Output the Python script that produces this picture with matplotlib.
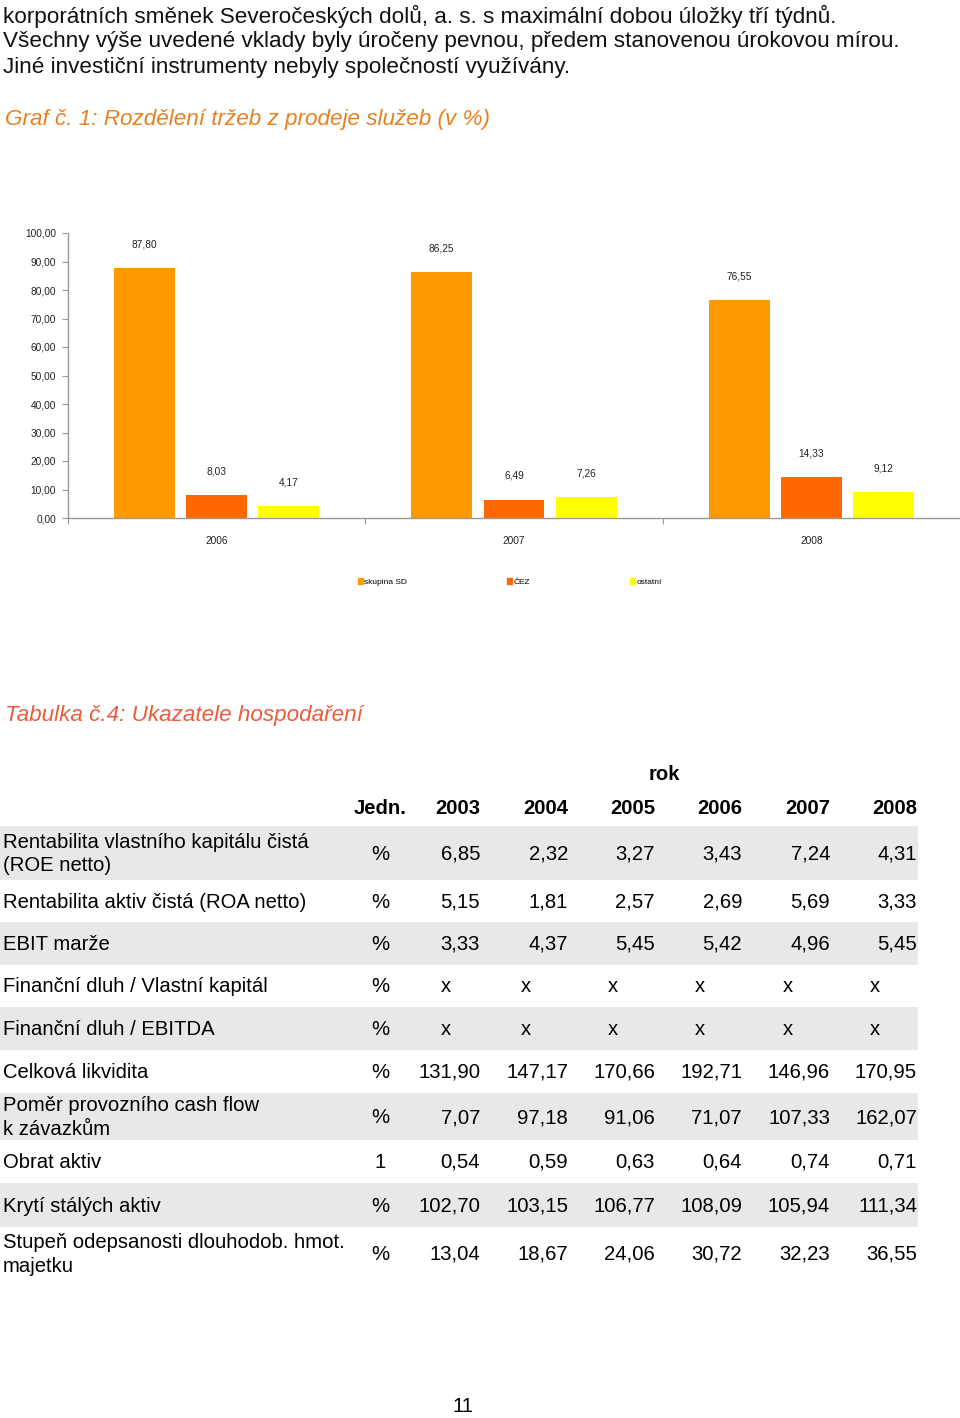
import matplotlib.pyplot as plt
import matplotlib.patches as mpatches
import numpy as np

plt.rcParams['font.family'] = ['Liberation Sans', 'DejaVu Sans']

# chart data
years = ['2006', '2007', '2008']
series = ['skupina SD', 'ČEZ', 'ostatní']
skupina_sd = [87.80, 86.25, 76.55]
cez = [8.03, 6.49, 14.33]
ostatni = [4.17, 7.26, 9.12]
colors = ['#FF9900', '#FF6600', '#FFFF00']

# table data
tab_years = ['2003', '2004', '2005', '2006', '2007', '2008']
row_labels = [
    'Rentabilita vlastního kapitálu čistá\n(ROE netto)',
    'Rentabilita aktiv čistá (ROA netto)',
    'EBIT marže',
    'Finanční dluh / Vlastní kapitál',
    'Finanční dluh / EBITDA',
    'Celková likvidita',
    'Poměr provozního cash flow\nk závazkům',
    'Obrat aktiv',
    'Krytí stálých aktiv',
    'Stupeň odepsanosti dlouhodob. hmot.\nmajetku',
]
units = ['%', '%', '%', '%', '%', '%', '%', '1', '%', '%']
values = [
    ['6,85', '2,32', '3,27', '3,43', '7,24', '4,31'],
    ['5,15', '1,81', '2,57', '2,69', '5,69', '3,33'],
    ['3,33', '4,37', '5,45', '5,42', '4,96', '5,45'],
    ['x', 'x', 'x', 'x', 'x', 'x'],
    ['x', 'x', 'x', 'x', 'x', 'x'],
    ['131,90', '147,17', '170,66', '192,71', '146,96', '170,95'],
    ['7,07', '97,18', '91,06', '71,07', '107,33', '162,07'],
    ['0,54', '0,59', '0,63', '0,64', '0,74', '0,71'],
    ['102,70', '103,15', '106,77', '108,09', '105,94', '111,34'],
    ['13,04', '18,67', '24,06', '30,72', '32,23', '36,55'],
]

W, H = 960, 1418
fig = plt.figure(figsize=(W / 100, H / 100), dpi=100)
fig.patch.set_facecolor('white')

# page layer in pixel coordinates
page = fig.add_axes([0, 0, 1, 1])
page.set_xlim(0, W)
page.set_ylim(H, 0)
page.axis('off')

text_fs = 16.2   # running text and captions
tab_fs = 14.6    # table
intro = [
    'korporátních směnek Severočeských dolů, a. s. s maximální dobou úložky tří týdnů.',
    'Všechny výše uvedené vklady byly úročeny pevnou, předem stanovenou úrokovou mírou.',
    'Jiné investiční instrumenty nebyly společností využívány.',
]
for i, line in enumerate(intro):
    page.text(3, 16 + 26 * i, line, fontsize=text_fs, va='center', ha='left', color='#111111')

page.text(5, 119, 'Graf č. 1: Rozdělení tržeb z prodeje služeb (v %)', fontsize=text_fs,
          style='italic', color='#E8801E', va='center')
page.text(5, 716, 'Tabulka č.4: Ukazatele hospodaření', fontsize=text_fs,
          style='italic', color='#EA5C3C', va='center')

# --- bar chart ---
ax = fig.add_axes([68 / W, 1 - 518 / H, 892 / W, 285 / H])
ax.patch.set_alpha(0)
x = np.arange(len(years))
bw = 0.205
off = 0.243
for k, (vals, c) in enumerate(zip([skupina_sd, cez, ostatni], colors)):
    bars = ax.bar(x + (k - 1) * off, vals, width=bw, color=c, label=series[k], zorder=2)
    for b, v in zip(bars, vals):
        ax.annotate(f'{v:.2f}'.replace('.', ','), (b.get_x() + b.get_width() / 2, v),
                    xytext=(0, 17), textcoords='offset points', ha='center', va='center',
                    fontsize=7.3, color='#222222')

ax.set_xlim(-0.5, 2.5)
ax.set_ylim(0, 100)
ax.set_yticks(np.arange(0, 101, 10))
ax.set_yticklabels([f'{t:.2f}'.replace('.', ',') for t in np.arange(0, 101, 10)])
ax.set_xticks([-0.5, 0.5, 1.5, 2.5])
ax.set_xticklabels([])
ax.set_xticks(x, minor=True)
ax.set_xticklabels(years, minor=True)
ax.tick_params(axis='x', which='minor', length=0, pad=12.7, labelsize=7.3, labelcolor='#222222')
ax.tick_params(axis='x', which='major', length=4, color='#999999', direction='out')
ax.tick_params(axis='y', length=4, color='#999999', pad=4.6, labelsize=7.3, labelcolor='#222222')
for s in ['top', 'right']:
    ax.spines[s].set_visible(False)
for s in ['left', 'bottom']:
    ax.spines[s].set_color('#999999')
    ax.spines[s].set_linewidth(1)

handles = [mpatches.Patch(color=c, label=s) for c, s in zip(colors, series)]
fig.legend(handles=handles, loc='center', bbox_to_anchor=(510 / W, 1 - 582 / H), ncol=3,
           frameon=False, fontsize=6, handlelength=0.6, handleheight=0.6, handletextpad=0.2,
           columnspacing=12)

# --- table ---
row_top = [826, 880, 922, 965, 1007, 1050, 1093, 1140, 1183, 1227]
row_bot = [880, 922, 965, 1007, 1050, 1093, 1140, 1183, 1227, 1280]
col_right = [480, 568, 655, 742, 830, 917]
x_mark = [446, 526, 613, 700, 788, 875]
unit_x = 380

page.text(664, 775, 'rok', fontsize=tab_fs, fontweight='bold', ha='center', va='center')
page.text(407, 808, 'Jedn.', fontsize=tab_fs, fontweight='bold', ha='right', va='center')
for cx, yr in zip(col_right, tab_years):
    page.text(cx, 808, yr, fontsize=tab_fs, fontweight='bold', ha='right', va='center')

for i, (lab, u, vals) in enumerate(zip(row_labels, units, values)):
    t, b = row_top[i], row_bot[i]
    if i % 2 == 0:
        page.add_patch(mpatches.Rectangle((0, t), 918, b - t, color='#E8E8E8', lw=0, zorder=0))
    yc = (t + b) / 2 + 1
    page.text(3, yc, lab, fontsize=tab_fs, ha='left', va='center', linespacing=1.32)
    page.text(unit_x, yc, u, fontsize=tab_fs, ha='center', va='center')
    for cx, xm, v in zip(col_right, x_mark, vals):
        if v == 'x':
            page.text(xm, yc, v, fontsize=tab_fs, ha='center', va='center')
        else:
            page.text(cx, yc, v, fontsize=tab_fs, ha='right', va='center')

page.text(463, 1407, '11', fontsize=tab_fs, ha='center', va='center')

fig.savefig('out.png', dpi=100)
